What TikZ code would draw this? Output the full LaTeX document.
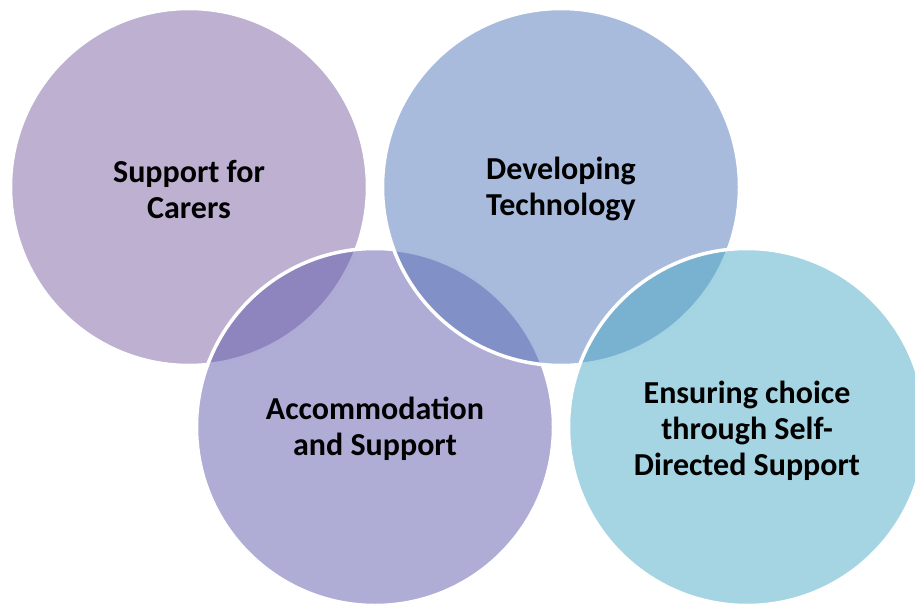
\documentclass[tikz,border=0pt]{standalone}
\usepackage{fontspec}
\setmainfont{Carlito}
\definecolor{cA}{RGB}{125,97,161}
\definecolor{cB}{RGB}{83,119,187}
\definecolor{cC}{RGB}{95,89,173}
\definecolor{cD}{RGB}{75,169,197}
\begin{document}
\begin{tikzpicture}[x=1pt,y=-1pt,
  disc/.style={circle, minimum size=357pt, inner sep=0pt, draw=white, line width=3.5pt, fill opacity=0.5, draw opacity=1},
  lbl/.style={align=center, font=\fontsize{32}{36}\selectfont\bfseries, text=black, yshift=-2pt}]
\useasboundingbox (0,0) rectangle (915,605);
\clip (0,0) rectangle (915,605);
\node[disc, fill=cA] (c1) at (189,187) {};
\node[disc, fill=cC] (c3) at (375,427) {};
\node[disc, fill=cB] (c2) at (561,187) {};
\node[disc, fill=cD] (c4) at (747,427) {};
\node[lbl] (t1) at (c1.center) {Support for\\Carers};
\node[lbl] (t2) at (c2.center) {Developing\\Technology};
\node[lbl] (t3) at (c3.center) {Accommodation\\and Support};
\node[lbl, yshift=-2pt] (t4) at (c4.center) {Ensuring choice\\through Self-\\Directed Support};
\end{tikzpicture}
\end{document}
